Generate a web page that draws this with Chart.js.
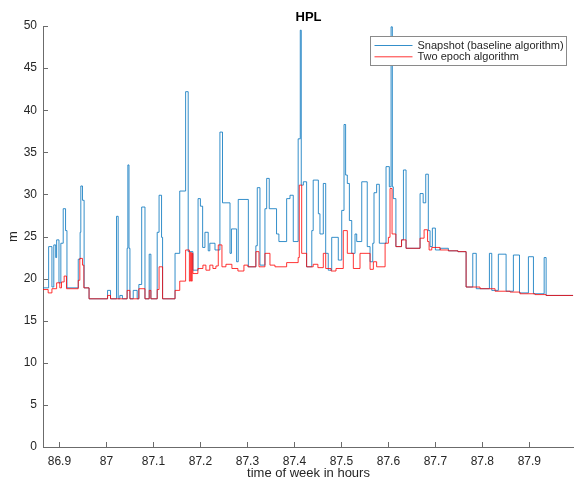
<!DOCTYPE html>
<html>
<head>
<meta charset="utf-8">
<script src="https://cdn.jsdelivr.net/npm/chart.js@4.4.1/dist/chart.umd.min.js"></script>
<style>
html, body { margin: 0; padding: 0; background: #fff; }
</style>
</head>
<body>
<canvas id="hpl" width="574" height="481"></canvas>
<script>
const seriesNames = ['Snapshot (baseline algorithm)', 'Two epoch algorithm'];

// snapshot (baseline) steps: time of week [h], HPL [m]
const snapTime = [86.865, 86.877, 86.884, 86.888, 86.892, 86.894, 86.899, 86.903, 86.908, 86.913,
  86.916, 86.940, 86.944, 86.9455, 86.949, 86.9525, 86.963, 87.0024, 87.0087, 87.0215,
  87.025, 87.0285, 87.034, 87.044, 87.0456, 87.048, 87.050, 87.057, 87.0654, 87.069,
  87.075, 87.082, 87.091, 87.0946, 87.108, 87.112, 87.1173, 87.1195, 87.146, 87.156,
  87.1685, 87.174, 87.184, 87.195, 87.200, 87.2047, 87.2096, 87.2166, 87.220, 87.231,
  87.2415, 87.247, 87.263, 87.266, 87.277, 87.2805, 87.302, 87.318, 87.321, 87.3267,
  87.3373, 87.341, 87.3465, 87.362, 87.367, 87.3835, 87.3906, 87.3976, 87.408, 87.4125,
  87.4146, 87.419, 87.426, 87.437, 87.440, 87.451, 87.4544, 87.4615, 87.4666, 87.472,
  87.4794, 87.4934, 87.5007, 87.5056, 87.509, 87.5126, 87.517, 87.522, 87.529, 87.5326,
  87.5433, 87.555, 87.561, 87.5667, 87.5694, 87.575, 87.5807, 87.595, 87.602, 87.6057,
  87.6084, 87.6105, 87.616, 87.628, 87.632, 87.6376, 87.6674, 87.674, 87.6795, 87.685,
  87.6887, 87.6936, 87.700, 87.710, 87.7277, 87.748, 87.7654, 87.7796, 87.787, 87.815,
  87.820, 87.834, 87.8505, 87.866, 87.879, 87.898, 87.9087, 87.9315, 87.9357, 87.993];
const snapHpl = [18.9, 23.8, 19.0, 24.0, 22.5, 24.6, 19.5, 24.2, 28.3, 25.7,
  18.9, 22.3, 25.5, 31.0, 29.3, 18.9, 17.6, 18.6, 17.6, 27.4,
  17.6, 18.0, 17.6, 23.6, 33.5, 23.6, 17.6, 18.6, 17.6, 19.3,
  28.5, 17.6, 22.9, 17.6, 25.5, 29.9, 24.9, 17.6, 23.0, 30.4,
  42.2, 23.2, 21.0, 29.5, 28.6, 23.7, 25.5, 23.3, 24.2, 23.4,
  37.4, 29.0, 23.0, 25.9, 22.0, 29.4, 21.4, 23.9, 30.8, 21.6,
  28.3, 31.9, 28.3, 25.3, 24.4, 29.5, 29.9, 24.4, 36.6, 49.5,
  31.1, 31.5, 21.4, 25.7, 31.7, 27.7, 25.3, 31.3, 23.0, 21.0,
  24.9, 22.2, 28.1, 38.3, 32.3, 31.3, 26.9, 23.0, 25.3, 24.4,
  31.5, 23.8, 22.0, 24.2, 30.2, 31.2, 24.2, 33.3, 30.9, 49.9,
  30.9, 29.5, 23.8, 24.6, 32.9, 23.6, 30.1, 29.0, 32.4, 25.7,
  23.8, 26.0, 23.4, 23.6, 23.3, 23.2, 19.0, 23.0, 18.8, 23.0,
  18.6, 22.9, 18.5, 22.8, 18.3, 22.6, 18.2, 22.5, 18.0, 18.0];

// two epoch algorithm steps
const epochTime = [86.865, 86.876, 86.884, 86.894, 86.9008, 86.9044, 86.910, 86.915, 86.940, 86.9434,
  86.949, 86.952, 86.963, 87.0024, 87.0087, 87.044, 87.050, 87.069, 87.082, 87.091,
  87.0946, 87.108, 87.112, 87.1195, 87.146, 87.156, 87.1685, 87.1765, 87.1787, 87.1808,
  87.1825, 87.184, 87.1946, 87.2053, 87.2117, 87.220, 87.2266, 87.233, 87.238, 87.2458,
  87.2543, 87.267, 87.2798, 87.2926, 87.301, 87.318, 87.3246, 87.3373, 87.348, 87.3586,
  87.3835, 87.408, 87.4104, 87.4155, 87.426, 87.440, 87.450, 87.4615, 87.4666, 87.478,
  87.4885, 87.504, 87.5126, 87.5254, 87.5396, 87.561, 87.568, 87.575, 87.593, 87.600,
  87.6035, 87.6078, 87.616, 87.628, 87.6376, 87.6674, 87.676, 87.6834, 87.6866, 87.6923,
  87.710, 87.7277, 87.748, 87.7654, 87.795, 87.827, 87.859, 87.880, 87.912, 87.9357, 87.993];
const epochHpl = [18.7, 18.3, 18.8, 19.5, 18.9, 19.6, 20.3, 18.8, 19.8, 22.4,
  21.6, 18.9, 17.6, 18.0, 17.6, 18.6, 17.6, 18.8, 17.6, 18.6,
  17.6, 18.7, 21.4, 17.6, 18.6, 19.7, 23.4, 19.7, 23.1, 19.7,
  23.0, 20.6, 21.2, 21.6, 21.0, 21.6, 21.2, 21.5, 24.0, 21.4,
  21.7, 21.2, 20.9, 21.6, 21.4, 23.2, 21.4, 23.0, 21.6, 21.4,
  21.9, 22.5, 31.1, 23.0, 21.4, 21.7, 21.3, 23.0, 21.2, 20.9,
  21.2, 25.7, 23.0, 21.2, 23.0, 21.1, 22.0, 21.4, 24.2, 24.9,
  30.7, 25.3, 23.8, 24.6, 23.6, 24.8, 25.8, 24.4, 23.4, 23.7,
  23.4, 23.3, 23.2, 19.0, 18.8, 18.5, 18.4, 18.2, 18.1, 18.0, 18.0];

const xTicks = [86.9, 87.0, 87.1, 87.2, 87.3, 87.4, 87.5, 87.6, 87.7, 87.8, 87.9];
const yTicks = [0, 5, 10, 15, 20, 25, 30, 35, 40, 45, 50];

const lineColors = ['#0072BD', '#FF0000'];
const axisGrey = '#262626';

function toPoints(xs, ys) {
  return xs.map((x, i) => ({ x: x, y: ys[i] }));
}

// matlab style inward ticks + boxed legend
const matlabBits = {
  id: 'matlabBits',
  afterDraw(chart) {
    const ctx = chart.ctx;
    const area = chart.chartArea;
    const xs = chart.scales.x, ys = chart.scales.y;
    ctx.save();
    ctx.strokeStyle = '#6b6b6b';
    ctx.lineWidth = 1;
    ctx.beginPath();
    xTicks.forEach(v => {
      const px = Math.round(xs.getPixelForValue(v)) + 0.5;
      ctx.moveTo(px, area.bottom);
      ctx.lineTo(px, area.bottom - 5);
    });
    yTicks.forEach(v => {
      const py = Math.round(ys.getPixelForValue(v)) + 0.5;
      ctx.moveTo(area.left, py);
      ctx.lineTo(area.left + 5, py);
    });
    ctx.stroke();

    // legend box
    const w = 196, h = 29;
    const x0 = Math.round(area.right - 8 - w) + 0.5;
    const y0 = Math.round(area.top + 10) + 0.5;
    ctx.fillStyle = '#fff';
    ctx.fillRect(x0, y0, w, h);
    ctx.strokeStyle = '#8a8a8a';
    ctx.strokeRect(x0, y0, w, h);
    ctx.font = '11px "Liberation Sans", Arial, sans-serif';
    ctx.textBaseline = 'middle';
    ctx.textAlign = 'left';
    seriesNames.forEach((name, i) => {
      const ly = y0 + 9 + i * 11.3;
      ctx.strokeStyle = lineColors[i];
      ctx.lineWidth = 0.8;
      ctx.beginPath();
      ctx.moveTo(x0 + 4, ly);
      ctx.lineTo(x0 + 42, ly);
      ctx.stroke();
      ctx.fillStyle = axisGrey;
      ctx.fillText(name, x0 + 47, ly);
    });
    ctx.restore();
  }
};

const tickFont = { family: '"Liberation Sans", Arial, sans-serif', size: 12 };

new Chart(document.getElementById('hpl'), {
  type: 'line',
  data: {
    datasets: [
      {
        label: seriesNames[0],
        data: toPoints(snapTime, snapHpl),
        borderColor: lineColors[0],
        borderWidth: 0.8,
        stepped: 'before',
        pointRadius: 0,
        fill: false,
        order: 2
      },
      {
        label: seriesNames[1],
        data: toPoints(epochTime, epochHpl),
        borderColor: lineColors[1],
        borderWidth: 0.8,
        stepped: 'before',
        pointRadius: 0,
        fill: false,
        order: 1
      }
    ]
  },
  options: {
    responsive: false,
    animation: false,
    layout: { padding: 0 },
    plugins: {
      legend: { display: false },
      tooltip: { enabled: false },
      title: {
        display: true,
        text: 'HPL',
        fullSize: false,
        color: '#000',
        font: { family: '"Liberation Sans", Arial, sans-serif', size: 13, weight: 'bold' },
        padding: { top: 10, bottom: 0.4 }
      }
    },
    scales: {
      x: {
        type: 'linear',
        min: 86.865,
        max: 87.995,
        afterBuildTicks: s => { s.ticks = xTicks.map(v => ({ value: v })); },
        afterFit: s => { s.height = 34; },
        grid: { display: false, drawTicks: false },
        border: { display: true, color: '#6b6b6b', width: 1 },
        ticks: {
          autoSkip: false,
          maxRotation: 0,
          padding: 7,
          color: axisGrey,
          font: tickFont,
          callback: v => String(Math.round(v * 10) / 10)
        },
        title: {
          display: true,
          text: 'time of week in hours',
          color: axisGrey,
          font: { family: '"Liberation Sans", Arial, sans-serif', size: 13 },
          padding: { top: 0, bottom: 0 }
        }
      },
      y: {
        min: 0,
        max: 50,
        afterBuildTicks: s => { s.ticks = yTicks.map(v => ({ value: v })); },
        afterFit: s => { s.width = 43; },
        grid: { display: false, drawTicks: false },
        border: { display: true, color: '#6b6b6b', width: 1 },
        ticks: { padding: 6, color: axisGrey, font: tickFont },
        title: {
          display: true,
          text: 'm',
          color: axisGrey,
          font: { family: '"Liberation Sans", Arial, sans-serif', size: 13 },
          padding: { top: 6, bottom: 0 }
        }
      }
    }
  },
  plugins: [matlabBits]
});
</script>
</body>
</html>
